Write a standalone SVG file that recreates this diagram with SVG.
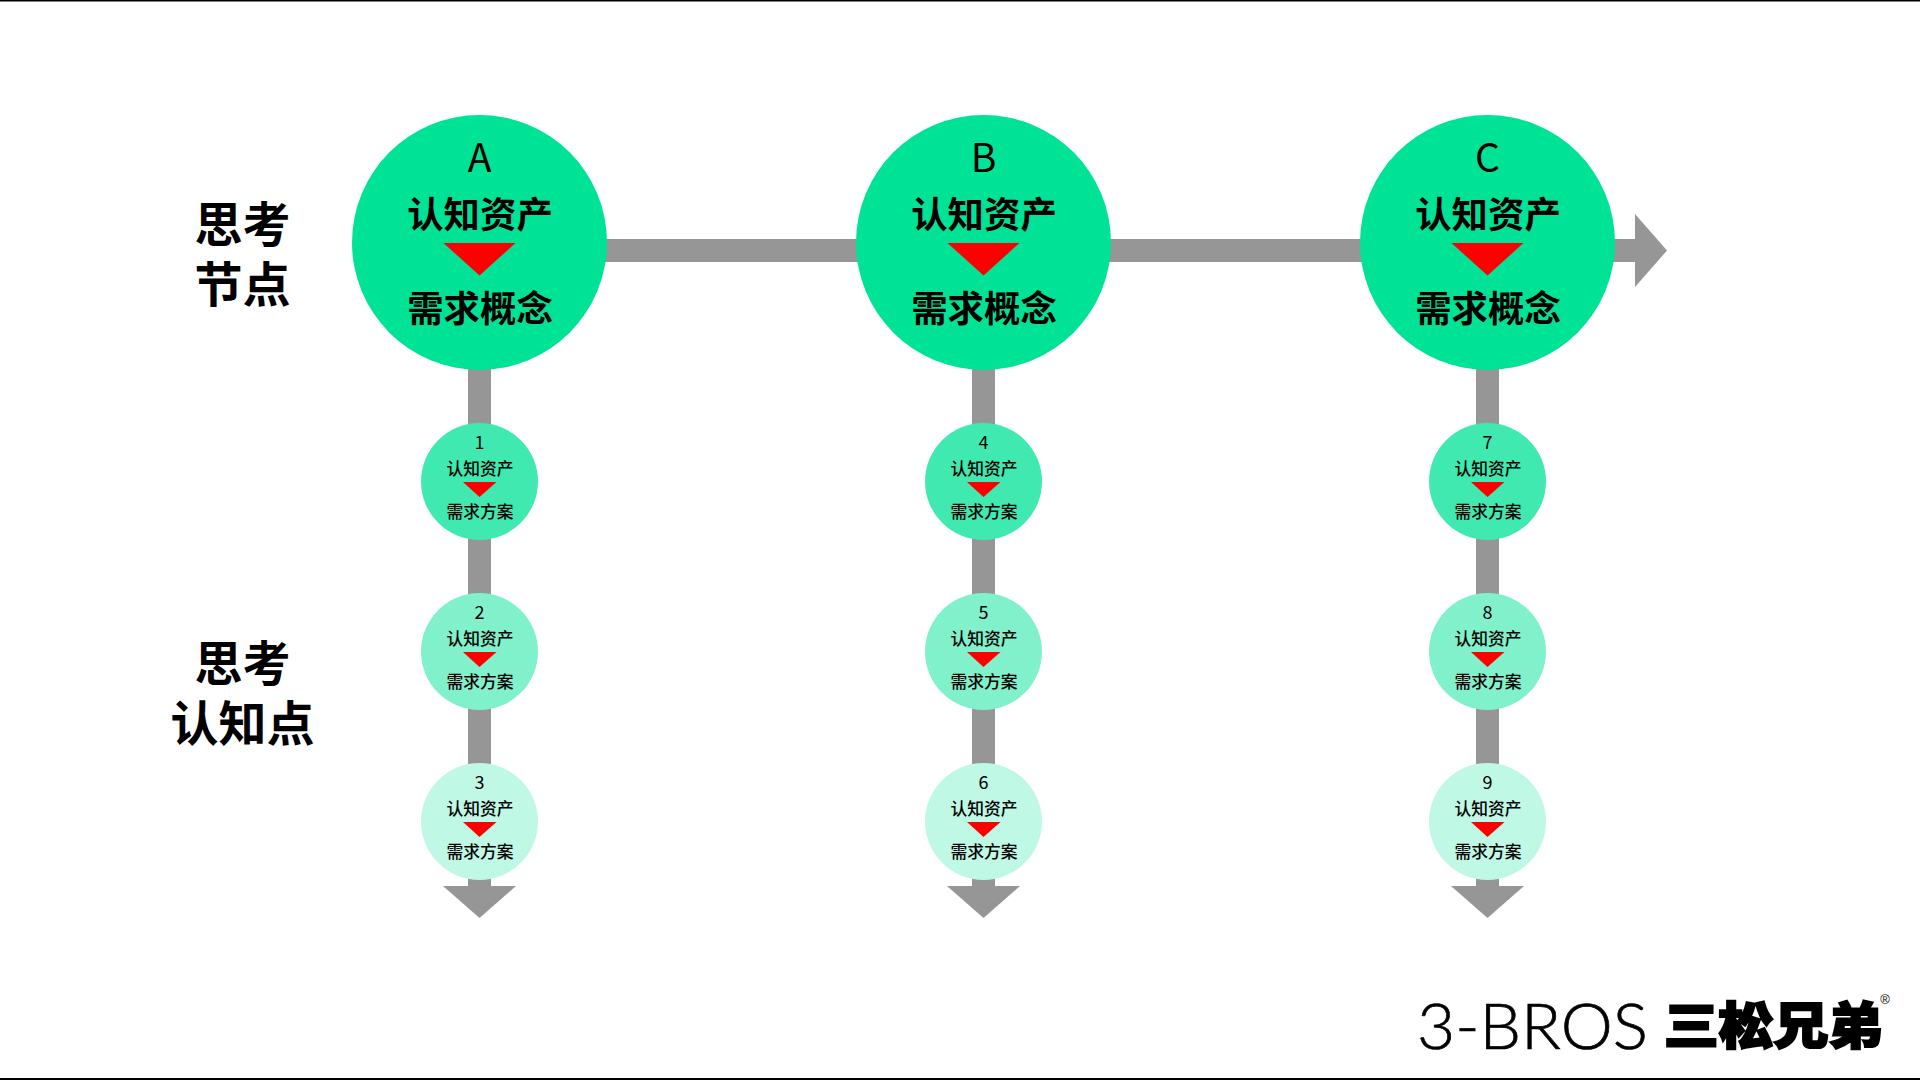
<svg xmlns="http://www.w3.org/2000/svg" width="1920" height="1080" viewBox="0 0 1920 1080">
<style>
text{font-family:"Noto Sans CJK SC","Noto Sans",sans-serif;text-anchor:middle;fill:#000}
.bar{fill:#969696}
.big{fill:#00e396}
.t{fill:#ff0000}
.bh{font-size:36.4px;font-weight:700}
.bl{font-size:39px;font-weight:400}
.sh{font-size:16.8px;font-weight:500}
.sl{font-size:18px;font-weight:400}
.side{font-size:48px;font-weight:700}
.c1{fill:#40e9b0}.c2{fill:#80f1cb}.c3{fill:#bff8e5}
</style>
<rect width="1920" height="1080" fill="#fff"/>
<rect x="0" y="0" width="1920" height="1.5" fill="#000"/>
<rect x="0" y="1078" width="1920" height="2" fill="#000"/>
<g id="connectors">
<rect class="bar" x="590" y="239" width="1050" height="23"/>
<polygon class="bar" points="1635,214 1667,250.5 1635,287"/>
<rect class="bar" x="468" y="360" width="23" height="530"/>
<polygon class="bar" points="443,886 516,886 479.5,918"/>
<rect class="bar" x="972" y="360" width="23" height="530"/>
<polygon class="bar" points="947,886 1020,886 983.5,918"/>
<rect class="bar" x="1476" y="360" width="23" height="530"/>
<polygon class="bar" points="1451,886 1524,886 1487.5,918"/>
</g>
<g id="label-node"><text class="side"><tspan x="242.5" y="242">思考</tspan><tspan x="242.5" y="302">节点</tspan></text></g>
<g id="label-point"><text class="side"><tspan x="242.5" y="681">思考</tspan><tspan x="242.5" y="741">认知点</tspan></text></g>
<g id="node-A"><circle class="big" cx="479.5" cy="242.5" r="127.5"/><text class="bl" x="479.5" y="172">A</text><text class="bh" x="480" y="228">认知资产</text><polygon class="t" points="443.5,243 515.5,243 479.5,275.5"/><text class="bh" x="480" y="322">需求概念</text></g>
<g id="node-B"><circle class="big" cx="983.5" cy="242.5" r="127.5"/><text class="bl" x="983.5" y="172">B</text><text class="bh" x="984" y="228">认知资产</text><polygon class="t" points="947.5,243 1019.5,243 983.5,275.5"/><text class="bh" x="984" y="322">需求概念</text></g>
<g id="node-C"><circle class="big" cx="1487.5" cy="242.5" r="127.5"/><text class="bl" x="1487.5" y="172">C</text><text class="bh" x="1488" y="228">认知资产</text><polygon class="t" points="1451.5,243 1523.5,243 1487.5,275.5"/><text class="bh" x="1488" y="322">需求概念</text></g>
<g id="node-1"><circle class="c1" cx="479.5" cy="481.5" r="58.5"/><text class="sl" x="479.5" y="449">1</text><text class="sh" x="480" y="474.5">认知资产</text><polygon class="t" points="463,482 496.5,482 479.5,497"/><text class="sh" x="480" y="518">需求方案</text></g>
<g id="node-2"><circle class="c2" cx="479.5" cy="651.5" r="58.5"/><text class="sl" x="479.5" y="619">2</text><text class="sh" x="480" y="644.5">认知资产</text><polygon class="t" points="463,652 496.5,652 479.5,667"/><text class="sh" x="480" y="688">需求方案</text></g>
<g id="node-3"><circle class="c3" cx="479.5" cy="821.5" r="58.5"/><text class="sl" x="479.5" y="789">3</text><text class="sh" x="480" y="814.5">认知资产</text><polygon class="t" points="463,822 496.5,822 479.5,837"/><text class="sh" x="480" y="858">需求方案</text></g>
<g id="node-4"><circle class="c1" cx="983.5" cy="481.5" r="58.5"/><text class="sl" x="983.5" y="449">4</text><text class="sh" x="984" y="474.5">认知资产</text><polygon class="t" points="967,482 1000.5,482 983.5,497"/><text class="sh" x="984" y="518">需求方案</text></g>
<g id="node-5"><circle class="c2" cx="983.5" cy="651.5" r="58.5"/><text class="sl" x="983.5" y="619">5</text><text class="sh" x="984" y="644.5">认知资产</text><polygon class="t" points="967,652 1000.5,652 983.5,667"/><text class="sh" x="984" y="688">需求方案</text></g>
<g id="node-6"><circle class="c3" cx="983.5" cy="821.5" r="58.5"/><text class="sl" x="983.5" y="789">6</text><text class="sh" x="984" y="814.5">认知资产</text><polygon class="t" points="967,822 1000.5,822 983.5,837"/><text class="sh" x="984" y="858">需求方案</text></g>
<g id="node-7"><circle class="c1" cx="1487.5" cy="481.5" r="58.5"/><text class="sl" x="1487.5" y="449">7</text><text class="sh" x="1488" y="474.5">认知资产</text><polygon class="t" points="1471,482 1504.5,482 1487.5,497"/><text class="sh" x="1488" y="518">需求方案</text></g>
<g id="node-8"><circle class="c2" cx="1487.5" cy="651.5" r="58.5"/><text class="sl" x="1487.5" y="619">8</text><text class="sh" x="1488" y="644.5">认知资产</text><polygon class="t" points="1471,652 1504.5,652 1487.5,667"/><text class="sh" x="1488" y="688">需求方案</text></g>
<g id="node-9"><circle class="c3" cx="1487.5" cy="821.5" r="58.5"/><text class="sl" x="1487.5" y="789">9</text><text class="sh" x="1488" y="814.5">认知资产</text><polygon class="t" points="1471,822 1504.5,822 1487.5,837"/><text class="sh" x="1488" y="858">需求方案</text></g>
<g id="logo">
<text x="1417" y="1048.5" style="font-family:'Lato','Noto Sans',sans-serif;font-size:64px;font-weight:300;text-anchor:start;stroke:#000;stroke-width:.7px" textLength="231" lengthAdjust="spacingAndGlyphs">3-BROS</text>
<text transform="translate(1664 1044) scale(1 .9)" x="0" y="0" style="font-size:55px;font-weight:900;text-anchor:start;stroke:#000;stroke-width:2.4px" textLength="219" lengthAdjust="spacingAndGlyphs">三松兄弟</text>
<text x="1885" y="1004" style="font-family:'Liberation Sans',sans-serif;font-size:13px">®</text>
</g>
</svg>
